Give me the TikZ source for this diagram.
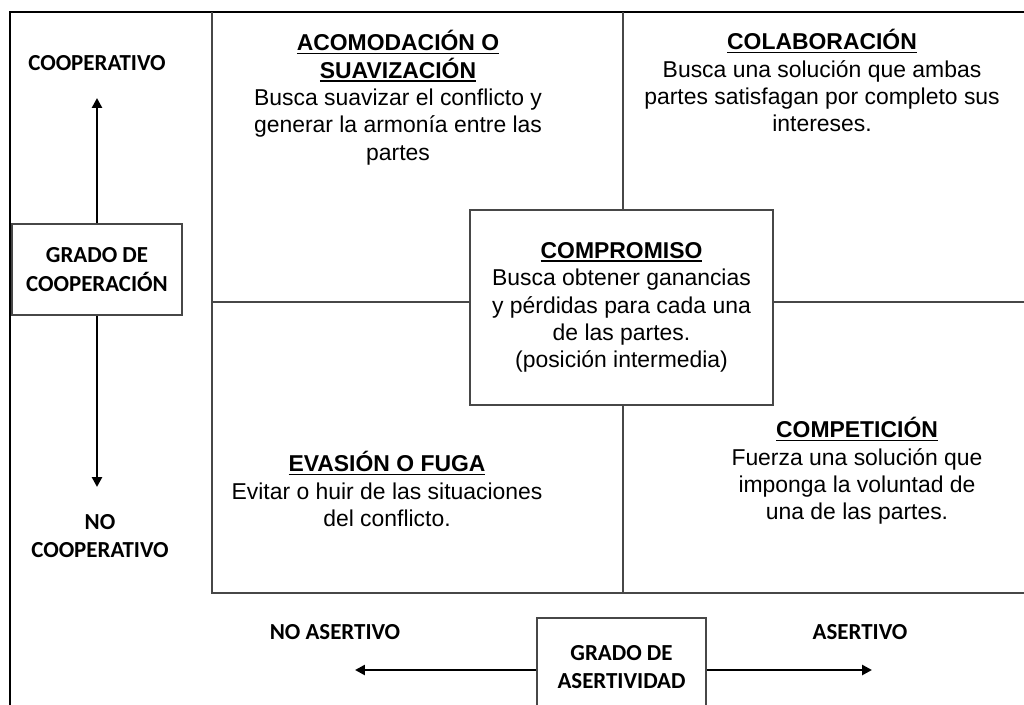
\documentclass[tikz,border=0pt]{standalone}
\usepackage{fontspec}
\setmainfont{Liberation Sans}
\newfontfamily\calib{Carlito}
\usetikzlibrary{arrows.meta,positioning}

\newcommand{\titulo}[1]{\setbox0=\hbox{\bfseries #1}\rlap{\rule[-2.6pt]{\wd0}{1.1pt}}\box0}

\tikzset{
  marco/.style={line width=2.1pt, draw=black},
  rejilla/.style={line width=1.1pt, draw=black!72},
  caja/.style={draw=black!72, line width=1.1pt, fill=white, align=center},
  texto/.style={align=center, inner sep=0pt, font=\fontsize{16.3}{19.5}\selectfont},
  eje/.style={align=center, inner sep=0pt, font=\calib\bfseries\fontsize{16.3}{20}\selectfont},
  flecha/.style={-{Triangle[length=7pt,width=7pt]}, line width=2pt}
}

\begin{document}
\begin{tikzpicture}[x=0.025cm,y=-0.025cm]
    \useasboundingbox (0,0) rectangle (1024,704);
    \clip (0,0) rectangle (1024,704);

    % marco y cuadrantes
    \draw[marco] (10,730) -- (10,12) -- (1040,12);
    \draw[rejilla] (212,12) -- (212,593) -- (1040,593);
    \draw[rejilla] (623,12) -- (623,593);
    \draw[rejilla] (212,302) -- (1040,302);

    % cuadrantes
    \node[texto, anchor=north] (acomodacion) at (398,30)
        {\titulo{ACOMODACIÓN O}\\\titulo{SUAVIZACIÓN}\\Busca suavizar el conflicto y\\generar la armonía entre las\\partes};
    \node[texto, anchor=north] (colaboracion) at (822,29)
        {\titulo{COLABORACIÓN}\\Busca una solución que ambas\\partes satisfagan por completo sus\\intereses.};
    \node[texto, anchor=north] (evasion) at (387,451)
        {\titulo{EVASIÓN O FUGA}\\Evitar o huir de las situaciones\\del conflicto.};
    \node[texto, anchor=north] (competicion) at (857,417)
        {\titulo{COMPETICIÓN}\\Fuerza una solución que\\imponga la voluntad de\\una de las partes.};

    \node[caja, texto, minimum width=7.575cm, minimum height=4.875cm] (compromiso) at (621.5,307.5)
        {\titulo{COMPROMISO}\\Busca obtener ganancias\\y pérdidas para cada una\\de las partes.\\(posición intermedia)};

    % eje de cooperacion
    \node[caja, eje, minimum width=4.25cm, minimum height=2.275cm] (gcoop) at (97,269.5) {GRADO DE\\COOPERACIÓN};
    \node[eje] (coop) at (97,63) {COOPERATIVO};
    \node[eje] (nocoop) at (100,536) {NO\\COOPERATIVO};
    \coordinate (arriba) at (97,98);
    \coordinate (abajo) at (97,487);
    \draw[flecha] (gcoop.north) -- (arriba);
    \draw[flecha] (gcoop.south) -- (abajo);

    % eje de asertividad
    \node[caja, eje, minimum width=4.225cm, minimum height=2.45cm] (gasert) at (621.5,667) {GRADO DE\\ASERTIVIDAD};
    \node[eje] (noasert) at (335,632) {NO ASERTIVO};
    \node[eje] (asert) at (860,632) {ASERTIVO};
    \coordinate (izq) at (355,670);
    \coordinate (der) at (872,670);
    \draw[flecha] (gasert.west |- izq) -- (izq);
    \draw[flecha] (gasert.east |- der) -- (der);
\end{tikzpicture}
\end{document}
